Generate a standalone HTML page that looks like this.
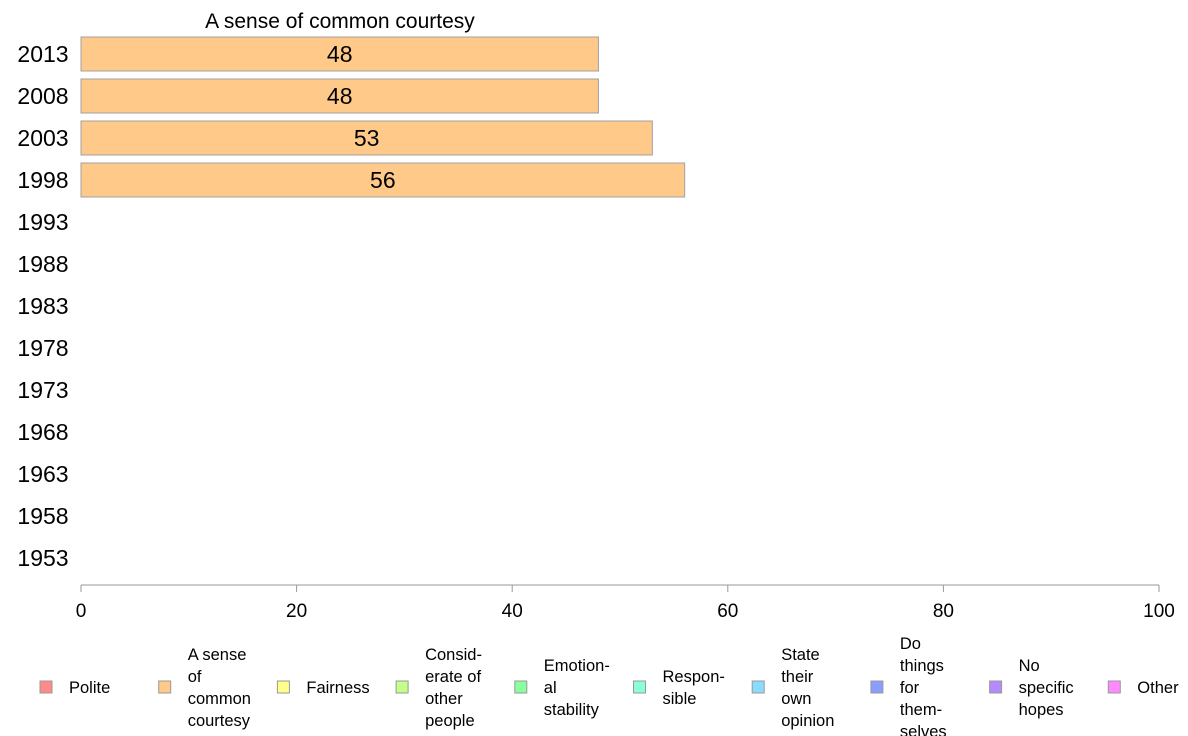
<!DOCTYPE html>
<html><head><meta charset="utf-8"><style>
body{margin:0;background:#fff;}
svg{display:block;font-family:"Liberation Sans",sans-serif;}
</style></head><body>
<svg id="chart" width="1188" height="736" xmlns="http://www.w3.org/2000/svg">
<text x="340" y="28" font-size="21" text-anchor="middle" fill="#000">A sense of common courtesy</text>
<g id="yaxis"></g>
<g id="bars"></g>
<g id="xaxis"></g>
<g id="legend"></g>
</svg>
<script>
const years = ["2013","2008","2003","1998","1993","1988","1983","1978","1973","1968","1963","1958","1953"];
const values = [48, 48, 53, 56, null, null, null, null, null, null, null, null, null];
const xTicks = [0, 20, 40, 60, 80, 100];
const legendLabels = [["Polite"],["A sense","of","common","courtesy"],["Fairness"],["Consid-","erate of","other","people"],["Emotion-","al","stability"],["Respon-","sible"],["State","their","own","opinion"],["Do","things","for","them-","selves"],["No","specific","hopes"],["Other"]];
const legendColors = ["#ff8a8a","#ffc98a","#ffff8a","#c4ff8a","#8aff9e","#8affd8","#8adcff","#8a9eff","#b48aff","#ff8aff"];
const NS="http://www.w3.org/2000/svg";
const x0=81,x1=1159;
const xs=v=>x0+(v/100)*(x1-x0);
const yc=i=>54+i*42;
function mk(t,a,p){const e=document.createElementNS(NS,t);for(const k in a)e.setAttribute(k,a[k]);p.appendChild(e);return e;}
const ya=document.getElementById('yaxis'),bg=document.getElementById('bars'),xa=document.getElementById('xaxis'),lg=document.getElementById('legend');
years.forEach((y,i)=>{
  const t=mk('text',{x:43,y:yc(i)+8,'font-size':23,'text-anchor':'middle',fill:'#000'},ya);
  
  
  t.textContent=y;
  const v=values[i];
  if(v!=null){
    const r=mk('rect',{x:xs(0),y:yc(i)-17,width:xs(v)-xs(0),height:34,fill:'#ffc98a',stroke:'#a0a0a0','stroke-width':1},bg);
    
    
    const l=mk('text',{x:(xs(0)+xs(v))/2,y:yc(i)+8,'font-size':23,'text-anchor':'middle',fill:'#000'},bg);
    
    
    l.textContent=v;
  }
});
mk('line',{x1:x0,x2:x1,y1:585,y2:585,stroke:'#999','stroke-width':1},xa);
xTicks.forEach(v=>{
  mk('line',{x1:xs(v),x2:xs(v),y1:585,y2:592,stroke:'#999'},xa);
  const t=mk('text',{x:xs(v),y:617,'font-size':19,'text-anchor':'middle',fill:'#000'},xa);
  
  
  t.textContent=v;
});
legendLabels.forEach((lines,i)=>{
  const sx=40+i*118.7;
  const g=mk('g',{},lg);
  
  
  mk('rect',{x:sx,y:681,width:12,height:12,fill:legendColors[i],stroke:'#999','stroke-width':1},g);
  const n=lines.length, top=687-(n-1)*11;
  lines.forEach((s,j)=>{
    const t=mk('text',{x:sx+29,y:top+j*22+6,'font-size':16.5,fill:'#000'},g);
    t.textContent=s;
  });
});
</script>
</body></html>
